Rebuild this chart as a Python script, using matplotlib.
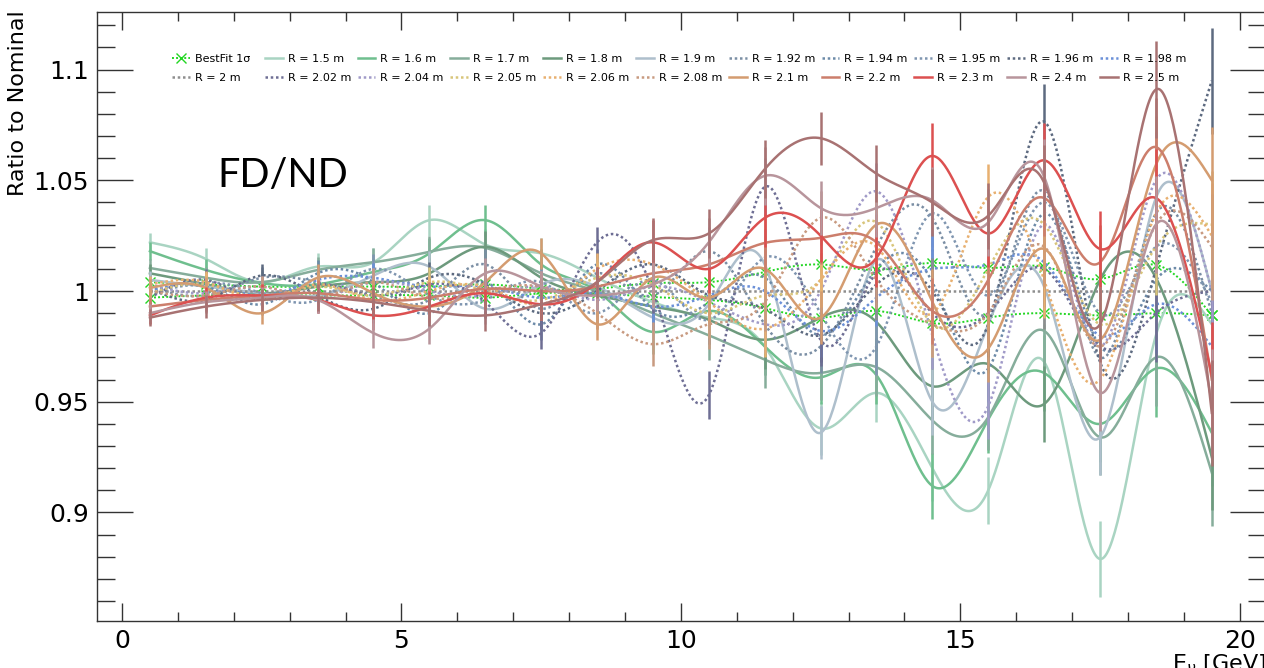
import numpy as np
import matplotlib
matplotlib.use("Agg")
import matplotlib.pyplot as plt
from matplotlib.lines import Line2D
from matplotlib.legend import Legend
from matplotlib.ticker import MultipleLocator

# ---------------- data ----------------
energy = [0.5 + i for i in range(20)]
errors = [0.004, 0.005, 0.005, 0.006, 0.0065, 0.007, 0.007, 0.007, 0.007, 0.010,
          0.011, 0.013, 0.012, 0.013, 0.015, 0.015, 0.017, 0.017, 0.022, 0.024]

bestfit_up = [1.004, 1.003, 1.002, 1.002, 1.002, 1.002, 1.003, 1.001, 1.001, 1.0036,
              1.004, 1.0086, 1.012, 1.0095, 1.0127, 1.0104, 1.011, 1.0054, 1.0118, 0.989]
bestfit_dn = [0.997, 0.998, 0.998, 0.998, 0.998, 0.998, 0.997, 0.999, 0.999, 0.9973,
              0.996, 0.9923, 0.988, 0.991, 0.9855, 0.988, 0.990, 0.989, 0.990, 0.989]

labels = ["R = 1.5 m", "R = 1.6 m", "R = 1.7 m", "R = 1.8 m", "R = 1.9 m",
          "R = 1.92 m", "R = 1.94 m", "R = 1.95 m", "R = 1.96 m", "R = 1.98 m",
          "R = 2 m", "R = 2.02 m", "R = 2.04 m", "R = 2.05 m", "R = 2.06 m",
          "R = 2.08 m", "R = 2.1 m", "R = 2.2 m", "R = 2.3 m", "R = 2.4 m", "R = 2.5 m"]

r150 = [1.022, 1.0145, 1.004, 1.011, 1.013, 1.032, 1.021, 1.017, 1.006, 0.995,
        0.988, 0.975, 0.938, 0.954, 0.920, 0.910, 0.968, 0.879, 0.980, 0.985]
r160 = [1.018, 1.0095, 1.0036, 1.003, 1.0086, 1.017, 1.032, 1.012, 1.000, 0.9815,
        0.991, 0.975, 0.961, 0.962, 0.912, 0.942, 0.963, 0.940, 0.965, 0.936]
r170 = [1.0104, 1.006, 1.004, 1.0095, 1.013, 1.0177, 1.0195, 1.008, 1.000, 0.990,
        0.980, 0.969, 0.963, 0.9656, 0.9416, 0.943, 0.982, 0.934, 0.970, 0.918]
r180 = [1.008, 1.003, 0.999, 1.002, 1.004, 1.008, 1.020, 1.006, 0.998, 0.993,
        0.987, 0.978, 0.988, 0.986, 0.957, 0.967, 0.949, 1.005, 1.006, 0.925]
r190 = [1.005, 1.002, 0.999, 0.998, 1.007, 1.011, 0.992, 1.003, 1.002, 0.988,
        0.994, 1.012, 0.936, 1.014, 0.950, 0.985, 1.002, 0.934, 1.042, 1.000]
r192 = [1.002, 0.998, 1.006, 1.004, 0.998, 0.996, 1.012, 0.992, 1.008, 0.998,
        1.018, 0.985, 0.975, 1.020, 1.033, 0.990, 1.045, 0.970, 1.035, 0.990]
r194 = [0.998, 1.002, 0.994, 1.008, 1.004, 0.990, 1.004, 0.985, 1.012, 0.992,
        0.995, 1.006, 0.980, 1.010, 1.004, 0.965, 1.035, 0.975, 1.005, 1.000]
r195 = [1.000, 1.004, 0.999, 0.996, 1.010, 0.998, 0.996, 1.004, 0.990, 1.005,
        0.987, 1.015, 0.990, 0.975, 1.035, 0.998, 1.040, 0.990, 1.020, 0.995]
r196 = [1.001, 0.996, 1.007, 0.998, 0.992, 1.006, 1.003, 0.990, 1.000, 1.012,
        0.998, 0.992, 0.980, 1.003, 1.000, 0.985, 1.0765, 0.968, 1.010, 1.095]
r198 = [1.000, 1.003, 0.998, 1.005, 1.006, 1.002, 1.002, 0.997, 0.999, 0.993,
        0.998, 1.000, 0.982, 0.997, 1.010, 1.012, 1.013, 0.980, 0.994, 0.975]
r200 = [1.0] * 20
r202 = [0.997, 1.005, 0.996, 1.003, 0.998, 1.003, 0.995, 0.981, 1.022, 1.000,
        0.953, 1.047, 0.978, 1.008, 0.990, 0.990, 1.010, 0.975, 0.990, 1.000]
r204 = [1.003, 0.999, 1.002, 0.997, 1.004, 1.000, 0.998, 1.002, 0.996, 1.002,
        0.995, 0.985, 1.000, 1.045, 0.980, 0.948, 1.030, 0.975, 1.050, 1.000]
r205 = [0.999, 1.003, 0.997, 1.002, 0.998, 1.004, 1.000, 0.996, 1.006, 1.003,
        0.990, 0.998, 1.005, 1.031, 0.985, 1.010, 1.030, 0.985, 1.020, 1.030]
r206 = [1.003, 1.004, 0.996, 1.003, 0.996, 1.000, 1.002, 0.994, 1.010, 1.012,
        0.995, 0.983, 1.005, 1.020, 0.990, 1.0425, 1.005, 0.960, 1.035, 1.025]
r208 = [1.000, 0.998, 1.002, 0.997, 1.004, 0.997, 1.000, 1.002, 0.990, 0.976,
        0.985, 0.995, 1.033, 1.005, 0.985, 0.990, 1.020, 0.975, 1.030, 1.020]
r210 = [1.0014, 1.0014, 0.990, 1.006, 0.999, 0.993, 1.004, 1.017, 0.985, 1.006,
        0.997, 1.010, 0.988, 1.030, 0.995, 0.974, 1.019, 0.978, 1.057, 1.050]
r220 = [0.993, 0.996, 0.998, 0.999, 0.996, 0.997, 1.001, 1.000, 1.002, 1.008,
        1.012, 1.0217, 1.024, 1.022, 0.991, 1.005, 1.042, 1.013, 1.065, 0.960]
r230 = [0.989, 0.997, 0.998, 0.996, 0.989, 0.993, 0.999, 0.994, 1.004, 1.022,
        1.010, 1.033, 1.025, 1.015, 1.061, 1.026, 1.059, 1.019, 1.042, 0.962]
r240 = [0.990, 0.995, 0.997, 0.996, 0.981, 0.983, 1.008, 1.002, 0.998, 1.003,
        1.022, 1.052, 1.0375, 1.0375, 1.041, 1.031, 1.0516, 0.954, 1.030, 0.950]
r250 = [0.988, 0.993, 0.996, 0.997, 0.995, 0.991, 0.989, 0.994, 1.004, 1.023,
        1.026, 1.055, 1.069, 1.053, 1.040, 1.034, 1.049, 0.985, 1.091, 0.945]

series = [r150, r160, r170, r180, r190, r192, r194, r195, r196, r198,
          r200, r202, r204, r205, r206, r208, r210, r220, r230, r240, r250]

colors = ["#a9d4c2", "#6fbf8e", "#86ad9b", "#6d9a7d", "#aebfcc",
          "#7a8ea4", "#6c8aa8", "#7f95b0", "#5d6a80", "#6b90d8",
          "#8e8e8e", "#6e6e94", "#a09ac8", "#d8c57a", "#e8b070",
          "#c89a80", "#d49c70", "#cc7e6c", "#dc5050", "#b8959c", "#a87272"]
dotted = [False] * 5 + [True] * 11 + [False] * 5

# ---------------- helpers ----------------
def natural_spline(x, y, xs):
    x = np.asarray(x, float); y = np.asarray(y, float)
    n = len(x); h = np.diff(x)
    A = np.zeros((n, n)); b = np.zeros(n)
    A[0, 0] = A[-1, -1] = 1.0
    for i in range(1, n - 1):
        A[i, i - 1] = h[i - 1]; A[i, i] = 2 * (h[i - 1] + h[i]); A[i, i + 1] = h[i]
        b[i] = 6 * ((y[i + 1] - y[i]) / h[i] - (y[i] - y[i - 1]) / h[i - 1])
    M = np.linalg.solve(A, b)
    idx = np.clip(np.searchsorted(x, xs) - 1, 0, n - 2)
    x0 = x[idx]; x1 = x[idx + 1]; hh = x1 - x0
    t0 = x1 - xs; t1 = xs - x0
    return (M[idx] * t0 ** 3 / (6 * hh) + M[idx + 1] * t1 ** 3 / (6 * hh)
            + (y[idx] / hh - M[idx] * hh / 6) * t0 + (y[idx + 1] / hh - M[idx + 1] * hh / 6) * t1)

DOT = (0, (1.0, 1.1))
W, H = 1264, 668
fig = plt.figure(figsize=(W / 100, H / 100), dpi=100)
ax = fig.add_axes([97 / W, 1 - 621 / H, (1266 - 97) / W, (621 - 12) / H])

xs = np.linspace(energy[0], energy[-1], 800)
green = "#22d622"
LW = 1.8

# Best fit band
for band in (bestfit_up, bestfit_dn):
    ax.plot(xs, natural_spline(energy, band, xs), color=green, lw=1.4, ls=DOT, zorder=2)
    ax.plot(energy, band, ls="none", marker="x", ms=7, mew=1.0, color=green, zorder=2)

handles = [Line2D([], [], color=green, lw=1.4, ls=DOT, marker="x", ms=7, mew=1.0)]
for vals, c, d in zip(series, colors, dotted):
    ls = DOT if d else "-"
    ax.errorbar(energy, vals, yerr=errors, fmt="none", ecolor=c, elinewidth=LW, capsize=0, zorder=3)
    ax.plot(xs, natural_spline(energy, vals, xs), color=c, lw=LW, ls=ls, zorder=3)
    handles.append(Line2D([], [], color=c, lw=LW, ls=ls))

all_labels = ["BestFit 1\u03c3"] + labels
# equal-width columns: one small two-row legend per column
for j in range(11):
    x_px = 172 + 92.8 * j
    leg = Legend(ax, [handles[j], handles[j + 11]], [all_labels[j], all_labels[j + 11]],
                 loc="upper left", bbox_to_anchor=(x_px / W, 1 - 54 / H),
                 bbox_transform=fig.transFigure,
                 frameon=False, fontsize=8, handlelength=1.6, handletextpad=0.45,
                 labelspacing=0.8, borderpad=0, borderaxespad=0)
    ax.add_artist(leg)

ax.text(217, 668 - 187, "FD/ND", transform=None, fontsize=28.5, family="Lato", color="black")

ax.set_xlim(-0.447, 20.47)
ax.set_ylim(0.851, 1.126)
ax.xaxis.set_major_locator(MultipleLocator(5))
ax.xaxis.set_minor_locator(MultipleLocator(1))
ax.yaxis.set_major_locator(MultipleLocator(0.05))
ax.yaxis.set_minor_locator(MultipleLocator(0.01))
ax.tick_params(which="both", direction="in", top=True, right=True, width=1.0, color="#333333")
ax.tick_params(axis="y", which="major", length=26)
ax.tick_params(axis="y", which="minor", length=13)
ax.tick_params(axis="x", which="major", length=13)
ax.tick_params(axis="x", which="minor", length=6.5)
ax.tick_params(labelsize=18, pad=6)
ax.set_yticks([0.9, 0.95, 1.0, 1.05, 1.1])
ax.set_yticklabels(["0.9", "0.95", "1", "1.05", "1.1"])
ax.set_xticks([0, 5, 10, 15, 20])
ax.set_xticklabels(["0", "5", "10", "15", "20"])
for s in ax.spines.values():
    s.set_linewidth(1.0); s.set_color("#333333")

fig.text(18 / W, 1 - 10 / H, "Ratio to Nominal", rotation=90, ha="center", va="top", fontsize=16)
fig.text(1172 / W, 1 - 652 / H, r"E$_{\nu}$ [GeV]", ha="left", va="top", fontsize=16)

fig.savefig("out.png", dpi=100)
